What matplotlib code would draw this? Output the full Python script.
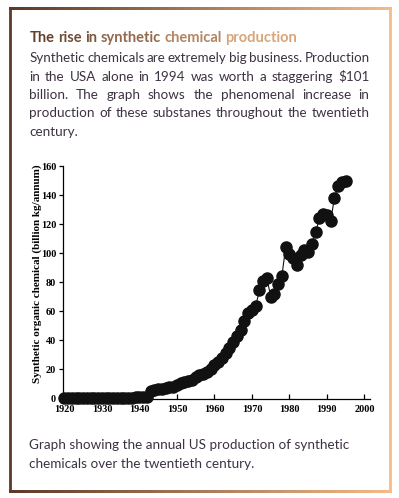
import numpy as np
import matplotlib
matplotlib.use("Agg")
import matplotlib.pyplot as plt
from matplotlib.colors import to_rgb

# annual US production of synthetic organic chemicals (billion kg/annum)
years = np.arange(1920, 1996)
production = [
    0.1, 0.1, 0.1, 0.1, 0.2, 0.2, 0.2, 0.3, 0.3, 0.3,          # 1920s
    0.3, 0.3, 0.3, 0.4, 0.4, 0.5, 0.5, 0.6, 0.5, 0.7,          # 1930s
    0.8, 1.0, 1.3, 5.0, 6.0, 6.5, 6.5, 7.0, 8.0, 8.0,          # 1940s
    9.5, 10.5, 11.5, 12.0, 13.0, 14.5, 16.0, 17.0, 18.5, 20.5,  # 1950s
    23.0, 25.0, 28.0, 31.0, 35.0, 39.0, 43.0, 47.0, 53.0, 59.0,  # 1960s
    61.0, 63.5, 74.5, 81.0, 83.0, 70.0, 72.0, 79.0, 84.5, 104.0,  # 1970s
    99.5, 97.0, 92.0, 99.0, 102.0, 101.0, 106.5, 114.5, 124.0, 127.0,  # 1980s
    126.0, 122.0, 138.0, 146.0, 149.0, 150.0,                  # 1990s
]
x_ticks = [1920, 1930, 1940, 1950, 1960, 1970, 1980, 1990, 2000]
y_ticks = [0, 20, 40, 60, 80, 100, 120, 140, 160]

title = "The rise in synthetic chemical production"
body = [
    "Synthetic chemicals are extremely big business. Production",
    "in the USA alone in 1994 was worth a staggering $101",
    "billion. The graph shows the phenomenal increase in",
    "production of these substanes throughout the twentieth",
    "century.",
]
caption = [
    "Graph showing the annual US production of synthetic",
    "chemicals over the twentieth century.",
]

FONT = "Lato"
SERIF = "Liberation Serif"
TEXT_COL = "#3d3242"
dark = np.array(to_rgb("#5b3a28"))
light = np.array(to_rgb("#f6bb88"))

fig = plt.figure(figsize=(3.99, 4.98), dpi=100)

# background axes in pixel units for the frame and the text
bg = fig.add_axes([0, 0, 1, 1])
bg.axis("off")
renderer = fig.canvas.get_renderer()

# gradient frame
L, R, T, B = 10, 389.5, 8.3, 491.3
hw = 1.4
ramp = np.linspace(0, 1, 256)[None, :, None]
strip = dark + (light - dark) * ramp
for y in (T, B):
    bg.imshow(strip, extent=(L - hw, R + hw, y + hw, y - hw), aspect="auto",
              interpolation="bilinear")
bg.plot([L, L], [T, B], color=dark, lw=2.0, solid_capstyle="butt")
bg.plot([R, R], [T, B], color=light, lw=2.0, solid_capstyle="butt")
bg.set_xlim(0, 399)
bg.set_ylim(498, 0)


def width(s, **kw):
    t = bg.text(0, 0, s, parse_math=False, **kw)
    w = t.get_window_extent(renderer).width
    t.remove()
    return w


# font size fitted on the caption's first line
fs = 10 * 318 / width(caption[0], fontsize=10, family=FONT)

# title, coloured word by word
tfs = 10 * 269 / width(title, fontsize=10, family=FONT, fontweight="bold")
tkw = dict(fontsize=tfs, family=FONT, fontweight="bold")
words = title.split()
ws = [width(w, **tkw) for w in words]
sp = width("a a", **tkw) - 2 * width("a", **tkw)
end = np.array(to_rgb("#ecb687"))
x = 29.3
for w, wd in zip(words, ws):
    f = (x + wd / 2 - 29.3) / 269
    c = dark + (end - dark) * f
    bg.text(x, 41.8, w, color=np.clip(c, 0, 1), va="baseline", parse_math=False, **tkw)
    x += wd + sp


def justify(line, y, x0=29.3, x1=369.5):
    kw = dict(fontsize=fs, family=FONT)
    words = line.split()
    ws = [width(w, **kw) for w in words]
    gap = (x1 - x0 - sum(ws)) / (len(words) - 1)
    if gap < 2.0:
        kw["fontsize"] = fs * (x1 - x0 - 2.0 * (len(words) - 1)) / sum(ws)
        ws = [width(w, **kw) for w in words]
        gap = (x1 - x0 - sum(ws)) / (len(words) - 1)
    x = x0
    for w, wd in zip(words, ws):
        bg.text(x, y, w, color=TEXT_COL, va="baseline", parse_math=False, **kw)
        x += wd + gap


for i, line in enumerate(body[:-1]):
    justify(line, 62.3 + i * 18.3)
bg.text(29.3, 62.3 + 4 * 18.3, body[-1], fontsize=fs, family=FONT,
        color=TEXT_COL, va="baseline")

for i, line in enumerate(caption):
    bg.text(29.3, 449.3 + i * 18.2, line, fontsize=fs, family=FONT,
            color=TEXT_COL, va="baseline")

# the chart
ax = fig.add_axes([63 / 399, 1 - 398.5 / 498, (370 - 63) / 399, (398.5 - 166) / 498])
ax.plot(years, production, color="#111111", lw=0.8, marker="o", ms=8,
        mfc="#111111", mec="#111111", clip_on=False, zorder=3)
ax.set_xlim(1919.6, 2001.5)
ax.set_ylim(0, 160)
ax.set_xticks(x_ticks)
ax.set_yticks(y_ticks)
for s in ("top", "right"):
    ax.spines[s].set_visible(False)
for s in ("left", "bottom"):
    ax.spines[s].set_linewidth(0.9)
ax.tick_params(axis="x", direction="in", length=3.5, width=0.9, pad=5)
ax.tick_params(axis="y", direction="out", length=3, width=0.9, pad=2)
for lab in ax.get_xticklabels() + ax.get_yticklabels():
    lab.set_family(SERIF)
    lab.set_fontweight("bold")
    lab.set_fontsize(7.4)
ax.set_ylabel("Synthetic organic chemical (billion kg/annum)", family=SERIF,
              fontweight="bold", fontsize=8)
ax.yaxis.set_label_coords(-0.07, 0.535)

fig.savefig("out.png", dpi=100)
